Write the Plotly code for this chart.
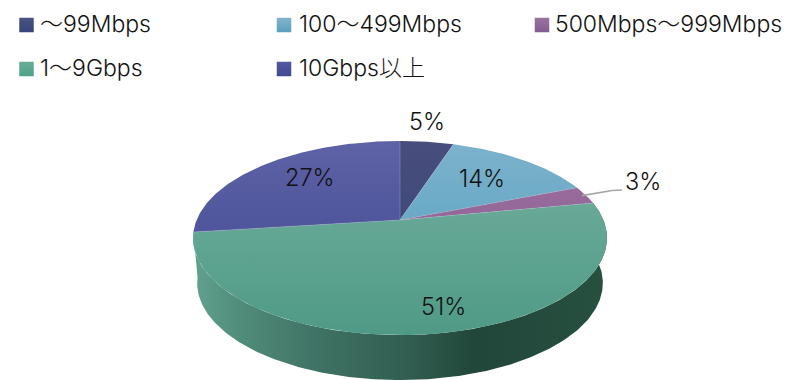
import numpy as np
import plotly.graph_objects as go

# Share of subscribers by line speed
categories = ["～99Mbps", "100～499Mbps", "500Mbps～999Mbps", "1～9Gbps", "10Gbps以上"]
shares = [5, 14, 3, 51, 27]

# Top and bottom gradient colours per slice
top_colors = ["#484d7c", "#7db2cb", "#9c709f", "#74b0a0", "#5e62a6"]
bottom_colors = ["#33477a", "#4b9dbf", "#8a5a92", "#4f9a86", "#3e478f"]
swatch_top = ["#4a5480", "#82b4cc", "#9a74a0", "#69ae9a", "#525aa0"]
swatch_bottom = ["#34457a", "#5a9fbd", "#845a90", "#50a088", "#404a90"]

FONT = "Inter, 'Noto Sans CJK JP', sans-serif"
TEXT = "#111111"

# Pie perspective: tilted disc projected around its centre
CX, CY = 400, 220
TILT = 0.1855
AX, BY = 203.4, 93.7
DEPTH = 45
BOTTOM_SCALE = 0.98


def rim(theta):
    """Project clockwise angles from 12 o'clock onto the tilted disc edge."""
    s = -np.cos(theta)
    w = 1 - TILT * s
    return AX * np.sin(theta) / w, BY * s / w


fig = go.Figure()

cum = np.cumsum([0] + shares) / sum(shares) * 2 * np.pi

# Outer wall of the large front slice; the upper surface covers its inner part
wall_theta = np.linspace(cum[3], cum[4], 240)
dx, dy = rim(wall_theta)
wall_x = np.concatenate([CX + dx, CX + BOTTOM_SCALE * dx[::-1]])
wall_y = np.concatenate([CY + dy, CY + dy[::-1] + DEPTH])
fig.add_trace(go.Scatter(
    x=wall_x, y=wall_y, mode="lines", fill="toself",
    line=dict(width=0), hoverinfo="skip", showlegend=False,
    fillgradient=dict(
        type="horizontal", start=197, stop=605,
        colorscale=[[0, "#5fa08d"], [0.12, "#4f8a79"], [0.3, "#3f7264"],
                    [0.52, "#305e50"], [0.68, "#21463a"], [1, "#27503f"]],
    ),
))

# Upper surface slices
for i, name in enumerate(categories):
    t = np.linspace(cum[i], cum[i + 1], max(3, int(shares[i] * 6)))
    dx, dy = rim(t)
    fig.add_trace(go.Scatter(
        x=np.concatenate([[CX], CX + dx, [CX]]),
        y=np.concatenate([[CY], CY + dy, [CY]]),
        mode="lines", fill="toself", name=name, showlegend=False,
        line=dict(width=0),
        fillgradient=dict(
            type="vertical", start=141, stop=335,
            colorscale=[[0, top_colors[i]], [1, bottom_colors[i]]],
        ),
        hovertemplate=f"{name}: {shares[i]}%<extra></extra>",
    ))

# Faint radial seams between neighbouring slices
seam_dx, seam_dy = rim(cum[1:])
seam_x, seam_y = [], []
for ex, ey in zip(seam_dx, seam_dy):
    seam_x += [CX, CX + ex, None]
    seam_y += [CY, CY + ey, None]
fig.add_trace(go.Scatter(
    x=seam_x, y=seam_y, mode="lines",
    line=dict(width=0.7, color="rgba(170,190,205,0.5)"),
    hoverinfo="skip", showlegend=False,
))

# Leader line from the narrow slice to its outside label
mid = (cum[2] + cum[3]) / 2
lead_dx, lead_dy = rim(np.array([mid]))
fig.add_trace(go.Scatter(
    x=[CX + lead_dx[0] * 0.98, 612, 622], y=[CY + lead_dy[0] * 0.98, 190.5, 190],
    mode="lines", line=dict(color="#a6a6a6", width=1.6),
    hoverinfo="skip", showlegend=False,
))

# Legend swatches and captions, laid out in two rows
swatch_x = [26.5, 284, 542, 26.5, 284]
swatch_y = [25, 25, 25, 69, 69]
caption_x = [38, 297, 553, 38, 297]
caption_y = [23.5, 23.5, 23.5, 68, 68]
fig.add_trace(go.Scatter(
    x=swatch_x, y=swatch_y, mode="markers",
    marker=dict(symbol="square", size=14.5, color=swatch_top,
                gradient=dict(type="vertical", color=swatch_bottom),
                line=dict(width=0)),
    hoverinfo="skip", showlegend=False,
))

annotations = [
    dict(x=lx, y=ly, text=name, xanchor="left", yanchor="middle",
         showarrow=False, font=dict(family=FONT, size=23, color=TEXT, weight=300))
    for name, lx, ly in zip(categories, caption_x, caption_y)
]

# Percentage labels
label_x = [427, 482, 642.5, 443.5, 309.5]
label_y = [121, 178, 181.5, 306, 177]
annotations += [
    dict(x=lx, y=ly, text=f"{v}%", xanchor="center", yanchor="middle",
         showarrow=False, font=dict(family=FONT, size=23.5, color=TEXT, weight=300))
    for v, lx, ly in zip(shares, label_x, label_y)
]

fig.update_layout(
    width=792, height=380,
    margin=dict(l=0, r=0, t=0, b=0),
    paper_bgcolor="white", plot_bgcolor="white",
    xaxis=dict(range=[0, 792], visible=False, fixedrange=True),
    yaxis=dict(range=[380, 0], visible=False, fixedrange=True),
    annotations=annotations,
)

fig.write_html("out.html", config={"displayModeBar": False})
